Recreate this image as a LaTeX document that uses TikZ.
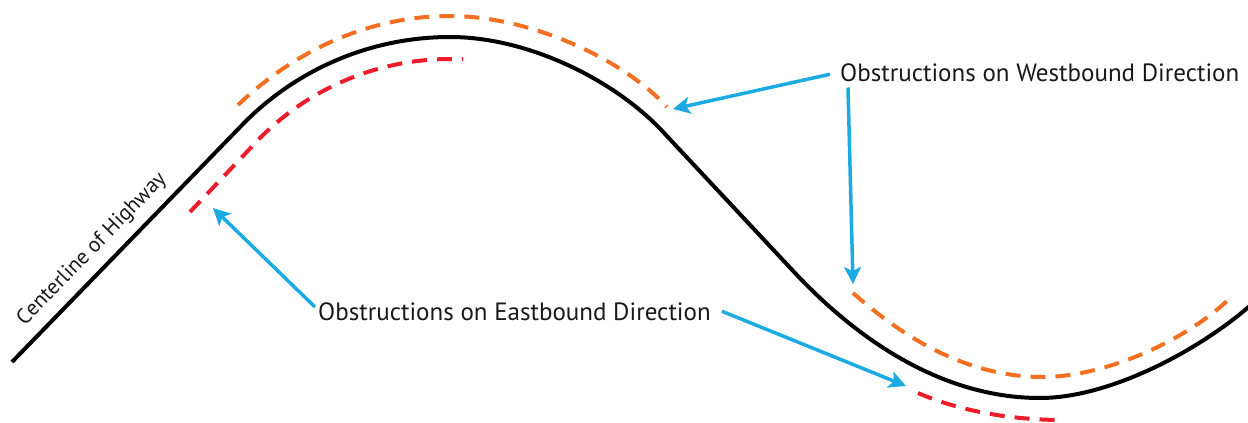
\documentclass[tikz,border=0pt]{standalone}
\usepackage{fontspec}
\setmainfont{PT Sans}
\usetikzlibrary{arrows.meta}
\definecolor{roadblack}{RGB}{0,0,0}
\definecolor{westorange}{RGB}{243,111,33}
\definecolor{eastred}{RGB}{236,28,42}
\definecolor{pointer}{RGB}{28,170,226}
\tikzset{
  centerline/.style={draw=roadblack, line width=4pt},
  westobs/.style={draw=westorange, line width=4pt, dash pattern=on 15pt off 10pt},
  eastobs/.style={draw=eastred, line width=4pt, dash pattern=on 15pt off 10pt},
  pointerarrow/.style={draw=pointer, line width=3.5pt, -{Stealth[length=17pt,width=17pt,inset=4pt]}},
  label/.style={inner sep=0pt, font=\fontsize{25}{29}\selectfont, text=black!90}
}
\begin{document}
\begin{tikzpicture}[x=1pt,y=-1pt]
\useasboundingbox (0,0) rectangle (1248,423);
% centerline of highway
\draw[centerline] (12,362) -- (245,122) .. controls (299.4,67.6) and (373,37) .. (450,37)
  .. controls (530,37) and (618,82) .. (665,134) -- (795,273)
  .. controls (830,310) and (920,398) .. (1040,398)
  .. controls (1110,398) and (1200,350) .. (1252,304);
% westbound obstructions
\draw[westobs] (238,105) .. controls (295.8,49.8) and (370,16) .. (450,16)
  .. controls (530,16) and (623,59) .. (667,107);
\draw[westobs] (853,293) .. controls (895,330) and (960,377) .. (1043,377)
  .. controls (1100,377) and (1180,345) .. (1228,300);
% eastbound obstructions
\draw[eastobs] (190,212) -- (260.5,137.5) .. controls (310.7,87.3) and (379,59) .. (450,59) -- (463,59);
\draw[eastobs] (918,393) .. controls (950,407) and (1000,420) .. (1063,420);
% labels
\node[label, anchor=base west] (west) at (840,81) {Obstructions on Westbound Direction};
\node[label, anchor=base west] (east) at (318,320) {Obstructions on Eastbound Direction};
\node[inner sep=0pt, font=\fontsize{21.5}{25}\selectfont, text=black!90, rotate=45.8, anchor=base] (cl) at (96,253) {Centerline of Highway};
% arrow tips
\coordinate (wtipA) at (673,109);
\coordinate (wtipB) at (853,284);
\coordinate (etipA) at (213,208);
\coordinate (etipB) at (906,386);
\coordinate (wstartA) at ([xshift=-10pt,yshift=-2pt]west.west);
\coordinate (wstartB) at ([xshift=8pt,yshift=-6pt]west.south west);
\coordinate (estartA) at ([xshift=-3pt,yshift=-5pt]east.north west);
\coordinate (estartB) at ([xshift=11pt]east.east);
\draw[pointerarrow] (wstartA) -- (wtipA);
\draw[pointerarrow] (wstartB) -- (wtipB);
\draw[pointerarrow] (estartA) -- (etipA);
\draw[pointerarrow] (estartB) -- (etipB);
\end{tikzpicture}
\end{document}
